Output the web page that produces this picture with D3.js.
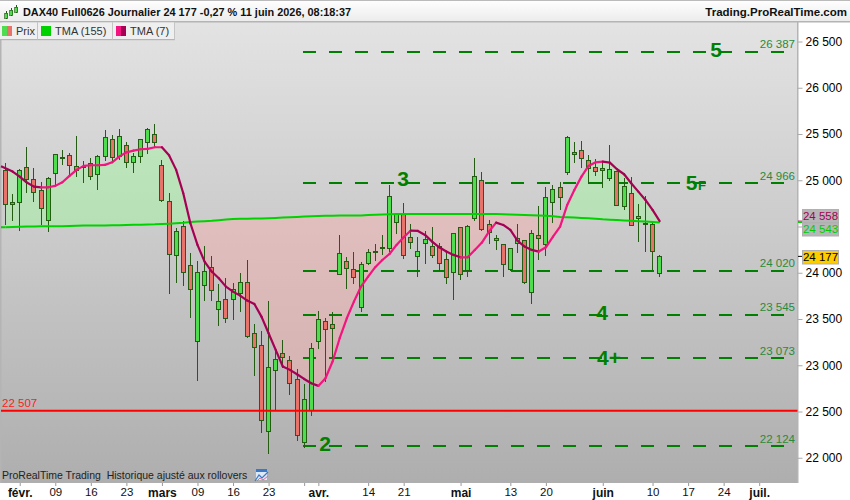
<!DOCTYPE html>
<html><head><meta charset="utf-8">
<script src="https://cdn.jsdelivr.net/npm/d3@7"></script>
<style>html,body{margin:0;padding:0;background:#fff;overflow:hidden}svg{display:block;font-family:"Liberation Sans",Arial,sans-serif}</style>
</head><body><svg id="c" width="850" height="500"></svg>
<script>
const title="DAX40 Full0626 Journalier 24 177 -0,27 % 11 juin 2026, 08:18:37";
const brand="Trading.ProRealTime.com";
const footer="ProRealTime Trading  Historique ajusté aux rollovers";
const legendNames=["Prix","TMA (155)","TMA (7)"];
const opens=[25112,24769,24762,25140,25018,24892,24567,25075,25245,25270,
25151,25158,25184,25072,25259,25443,25259,25378,25202,25259,
25411,25497,25162,24773,24189,24503,24081,23260,23865,24059,
23605,23714,23714,23778,23897,23346,23216,22287,22946,23130,
23054,22849,22168,22514,23260,23476,23443,23984,24128,24038,
23634,24103,24229,24268,24272,24553,24632,24384,24185,24326,
24286,24286,24146,24005,24492,24027,24596,25000,24524,24373,
24308,24038,24319,24351,23789,24405,24308,24762,24924,25086,
25302,25324,25216,25140,25129,25021,25097,24719,24859,24589,
24535,24524,23994];
const closes=[24740,24740,25108,25018,24870,24697,25021,25281,25248,25162,
25115,25148,25050,25259,25465,25248,25475,25194,25259,25443,
25551,25411,24791,24200,24449,24005,23829,24005,24016,23811,
23692,23508,23822,23897,23314,23195,22406,22979,23065,23094,
22806,22244,22633,23184,23497,23389,23400,24211,24052,23951,
24092,24222,24232,24275,24827,24632,24189,24337,24232,24362,
24196,24110,23951,24427,23984,24502,25043,24470,24445,24351,
24092,24265,24380,23897,24427,24373,24816,24902,24816,25464,
25281,25237,25129,25097,25108,25119,24729,24935,24513,24610,
24524,24232,24177];
const highs=[25194,24859,25137,25371,25144,24993,25047,25292,25339,25303,
25490,25216,25252,25281,25555,25501,25562,25421,25303,25447,
25573,25616,25227,24874,24492,24571,24222,24139,24297,24189,
23887,23951,23897,24005,24146,23454,23382,23703,23202,23281,
23108,22968,22806,23249,23598,23519,23584,24420,24182,24232,
24124,24265,24319,24416,24956,24657,24762,24535,24394,24463,
24502,24337,24232,24438,24502,24524,25248,25097,24578,24420,
24319,24275,24535,24362,24474,24729,24935,24956,24989,25486,
25421,25432,25281,25237,25205,25389,25097,25032,25043,24751,
24837,24556,24200];
const lows=[24528,24571,24463,24877,24780,24528,24456,24960,25176,25068,
25047,24982,25014,24906,25220,25194,25227,25148,25094,25198,
25292,25364,24776,23786,23905,23872,23526,22845,23710,23710,
23440,23465,23497,23591,23303,22899,22283,22049,22532,22979,
22694,22193,22121,22463,23184,22834,23051,23984,23836,23887,
23587,24092,24138,24203,24236,24434,24164,24272,23969,24110,
24167,24030,23893,23721,23930,23969,24574,24463,24326,24254,
23969,24030,24229,23886,23670,24146,24189,24553,24693,25065,
25194,25140,24967,25054,24924,25000,24729,24686,24513,24348,
24239,24045,23969];
const tma7=[25130,25094,25039,24975,24931,24924,24924,24939,24978,25047,
25112,25155,25162,25162,25166,25194,25256,25302,25320,25335,
25339,25357,25357,25270,25112,24859,24535,24301,24121,24013,
23941,23850,23796,23753,23699,23663,23526,23346,23166,22986,
22950,22903,22852,22806,22777,22860,23040,23292,23508,23688,
23851,23959,24060,24138,24203,24301,24383,24456,24452,24409,
24337,24275,24229,24193,24167,24167,24247,24326,24445,24542,
24517,24463,24347,24283,24247,24229,24275,24391,24499,24733,
24895,25039,25155,25194,25201,25191,25119,25065,24967,24877,
24787,24679,24558];
const tma155=[24492,24494,24497,24499,24500,24502,24503,24503,24503,24505,
24508,24510,24511,24512,24512,24513,24514,24516,24518,24520,
24522,24524,24528,24531,24535,24540,24548,24553,24558,24562,
24568,24575,24580,24583,24585,24586,24587,24589,24592,24596,
24600,24604,24608,24611,24613,24615,24617,24618,24618,24619,
24620,24624,24628,24630,24632,24634,24635,24636,24636,24636,
24636,24636,24636,24636,24636,24636,24636,24636,24635,24634,
24632,24630,24628,24625,24622,24620,24616,24610,24604,24600,
24596,24592,24588,24584,24578,24574,24570,24566,24562,24558,
24553,24548,24543];
const yTicks=[22000,22500,23000,23500,24000,24500,25000,25500,26000,26500];
const yHiddenLabels=[24500];
const dayIdx=[2,7,12,17,22,27,32,37,44,51,56,64,71,76,84,91,96,101,106];
const dayLabels=["févr.","09","16","23","mars","09","16","23","avr.","14","21","mai","13","20","juin","10","17","24","juil."];
const minorIdx=[42];
const levels=[26387,24966,24020,23545,23073,22124];
const levelStart=42, levelEnd=109.6;
const waves=[["5",716,57,21],["5",691.5,190,21],["F",702,190,13],["3",403,186,21],["4",602,320,21],["4+",609,365,21],["2",325,451,21]];
const support=22507;
const lastPrice=24177, lastTma7=24558, lastTma155=24543;

const W=850,H=500,L=1,R=797.5,T=22,B=483;
const x=d3.scaleLinear().domain([0,106]).range([5.5,759.2]);
const y=d3.scaleLinear().domain([22000,26500]).range([457.75,41.5]);
const px=v=>Math.floor(x(v))+.5, py=v=>Math.round(y(v))+.5;
const loc=d3.formatLocale({decimal:",",thousands:" ",grouping:[3],currency:["","€"]});
const fmt=loc.format(",d");
const svg=d3.select("#c");
const defs=svg.append("defs");
function grad(id,stops){const g=defs.append("linearGradient").attr("id",id).attr("x1",0).attr("x2",0).attr("y1",0).attr("y2",1);
 stops.forEach(s=>g.append("stop").attr("offset",s[0]).attr("stop-color",s[1]));}
grad("bg",[[0,"#e3e3e3"],[1,"#aeaeae"]]);
grad("hd",[[0,"#ffffff"],[1,"#ececec"]]);
defs.append("clipPath").attr("id","plot").append("rect").attr("x",L).attr("y",T).attr("width",R-L).attr("height",B-T);
const idx=d3.range(closes.length);
const above=d3.area().x(i=>x(i)).y0(T).y1(i=>y(tma155[i]));
const below=d3.area().x(i=>x(i)).y0(B).y1(i=>y(tma155[i]));
defs.append("clipPath").attr("id","above").append("path").attr("d",above(idx));
defs.append("clipPath").attr("id","below").append("path").attr("d",below(idx));

svg.append("rect").attr("width",W).attr("height",H).attr("fill","#fff");
svg.append("rect").attr("x",L).attr("y",T).attr("width",R-L).attr("height",B-T).attr("fill","url(#bg)");
svg.append("rect").attr("x",0).attr("y",0).attr("width",1.5).attr("height",B).attr("fill","#b4b4b4");
svg.append("rect").attr("x",R-.5).attr("y",T).attr("width",1.5).attr("height",B-T).attr("fill","#b4b4b4");

// area between averages
const between=d3.area().x(i=>x(i)).y0(i=>y(tma155[i])).y1(i=>y(tma7[i]));
svg.append("path").attr("d",between(idx)).attr("fill","rgba(153,255,153,.4)").attr("clip-path","url(#above)");
svg.append("path").attr("d",between(idx)).attr("fill","rgba(255,170,170,.4)").attr("clip-path","url(#below)");

// levels
svg.append("g").selectAll("line").data(levels).join("line")
 .attr("x1",x(levelStart)-.9).attr("x2",x(levelEnd)).attr("y1",d=>y(d)).attr("y2",d=>y(d))
 .attr("stroke","#008000").attr("stroke-width",2).attr("stroke-dasharray","13 13").attr("shape-rendering","crispEdges");

// candles
const cg=svg.append("g").attr("clip-path","url(#plot)").attr("shape-rendering","crispEdges");
cg.selectAll("line").data(idx).join("line").attr("x1",i=>px(i)).attr("x2",i=>px(i))
 .attr("y1",i=>py(highs[i])).attr("y2",i=>py(lows[i])).attr("stroke","#245c14");
cg.selectAll("rect").data(idx).join("rect")
 .attr("x",i=>px(i)-2).attr("width",4)
 .attr("y",i=>py(Math.max(opens[i],closes[i])))
 .attr("height",i=>Math.max(1,py(Math.min(opens[i],closes[i]))-py(Math.max(opens[i],closes[i]))))
 .attr("fill",i=>closes[i]>=opens[i]?"#4fdc4f":"#e8736b").attr("stroke","#245c14");

// averages
const line=d3.line().x(i=>x(i)).y(i=>y(tma155[i]));
svg.append("path").attr("d",line(idx)).attr("fill","none").attr("stroke","#00d200").attr("stroke-width",2);
svg.append("path").attr("d",`M${L},${y(tma155[0])}L${x(0)},${y(tma155[0])}`).attr("stroke","#00d200").attr("stroke-width",2);
svg.append("path").attr("d",`M${L},${y(tma7[0]+22)}L${x(0)},${y(tma7[0])}`).attr("stroke","#a60055").attr("stroke-width",2.2);
svg.append("g").selectAll("path").data(idx.slice(1)).join("path")
 .attr("d",i=>d3.line().x(j=>x(j)).y(j=>y(tma7[j]))([i-1,i]))
 .attr("fill","none").attr("stroke-linecap","round").attr("stroke-width",2.2)
 .attr("stroke",i=>tma7[i]>=tma7[i-1]?"#f4147f":"#a60055");

// support
svg.append("line").attr("x1",L).attr("x2",R).attr("y1",y(support)).attr("y2",y(support)).attr("stroke","#ff0000").attr("stroke-width",2);
svg.append("text").attr("x",2).attr("y",y(support)-4).attr("fill","#ff2020").attr("font-size",11.5).text(fmt(support));

// level labels
svg.append("g").selectAll("text").data(levels).join("text").attr("x",795).attr("y",d=>y(d)-3.5)
 .attr("text-anchor","end").attr("font-size",11.5).attr("fill","#2a8a3a").text(fmt);
svg.append("g").selectAll("text").data(waves).join("text").attr("x",d=>d[1]).attr("y",d=>d[2])
 .attr("text-anchor","middle").attr("font-size",d=>d[3]).attr("font-weight","bold").attr("fill","#008000").text(d=>d[0]);

// y axis
const ya=svg.append("g").attr("transform",`translate(${R},0)`).call(d3.axisRight(y).tickValues(yTicks).tickFormat(v=>yHiddenLabels.includes(v)?"":fmt(v)).tickSize(5).tickPadding(3));
ya.select(".domain").remove();
ya.selectAll("line").attr("stroke","#aaa");
ya.selectAll("text").attr("font-family","'Liberation Sans'").attr("font-size",12).attr("fill","#000");

// last value boxes
[[lastTma7,"#a60055"],[lastTma155,"#00d200"],[lastPrice,"#000"]].forEach(d=>{
 svg.append("line").attr("x1",R+.5).attr("x2",R+5).attr("y1",y(d[0])).attr("y2",y(d[0])).attr("stroke",d[1]);});
const boxes=[[lastTma7,209,222.5,"#b6b6b6","#a60055"],[lastTma155,222.5,236,"#b6b6b6","#00cc00"],[lastPrice,250,264,"#ffcc00","#000"]];
boxes.forEach(b=>{
 svg.append("rect").attr("x",802.5).attr("y",b[1]+.5).attr("width",36).attr("height",b[2]-b[1]-.5).attr("fill",b[3]).attr("stroke","#b0b0b0");
 svg.append("text").attr("x",820.5).attr("y",b[2]-3).attr("text-anchor","middle").attr("font-size",11.5).attr("fill",b[4]).text(fmt(b[0]));
});

// x axis
const xa=svg.append("g").attr("transform",`translate(0,${B})`).call(d3.axisBottom(x).tickValues(dayIdx.concat(minorIdx)).tickFormat(v=>{const k=dayIdx.indexOf(v);return k<0?"":dayLabels[k];}).tickSize(3).tickPadding(2));
xa.select(".domain").remove();
xa.selectAll("line").attr("stroke","#999");
xa.selectAll("text").attr("font-family","'Liberation Sans'").attr("fill","#111")
 .attr("font-size",v=>{const k=dayIdx.indexOf(v);return k>=0&&dayLabels[k].length>2?12:11.5;})
 .attr("font-weight",v=>{const k=dayIdx.indexOf(v);return k>=0&&dayLabels[k].length>2?"bold":"normal";});

// header
svg.append("rect").attr("width",W).attr("height",21).attr("fill","url(#hd)");
svg.append("rect").attr("y",21).attr("width",W).attr("height",1.5).attr("fill","#b4b4b4");
svg.append("rect").attr("width",W).attr("height",1).attr("fill","#bbb");
svg.append("text").attr("x",23).attr("y",16).attr("font-size",10.9).attr("font-weight","bold").attr("fill","#111").text(title);
svg.append("text").attr("x",847).attr("y",16).attr("text-anchor","end").attr("font-size",11.5).attr("font-weight","bold").attr("fill","#111").text(brand);
// header icon (small candles)
const ic=svg.append("g").attr("shape-rendering","crispEdges");
[[6,11,19,13,18],[11,8,16,10,15],[16,5,13,7,12]].forEach(c=>{
 ic.append("line").attr("x1",c[0]).attr("x2",c[0]).attr("y1",c[1]).attr("y2",c[2]).attr("stroke","#245c14");
 ic.append("rect").attr("x",c[0]-1.5).attr("y",c[3]).attr("width",3).attr("height",c[4]-c[3]).attr("fill","#4fdc4f").attr("stroke","#245c14").attr("stroke-width",.7);
});

// legend
const lg=[[0,37,2,["#4fdc4f","#e8736b"],16],[38,112,41,["#00d200","#00d200"],55],[113,174,116,["#f4147f","#a60055"],130]];
lg.forEach((l,k)=>{
 svg.append("rect").attr("x",l[0]).attr("y",22.5).attr("width",l[1]-l[0]).attr("height",17).attr("fill","#efefef");
 svg.append("rect").attr("x",l[0]).attr("y",39).attr("width",l[1]-l[0]+1).attr("height",1.2).attr("fill","#b4b4b4");
 svg.append("rect").attr("x",l[1]).attr("y",22.5).attr("width",1).attr("height",17).attr("fill","#c4c4c4");
 svg.append("rect").attr("x",l[2]).attr("y",26).attr("width",5).attr("height",10).attr("fill",l[3][0]);
 svg.append("rect").attr("x",l[2]+5).attr("y",26).attr("width",5).attr("height",10).attr("fill",l[3][1]);
 svg.append("text").attr("x",l[4]).attr("y",35).attr("font-size",11).attr("fill","#333").text(legendNames[k]);
});

// footer
svg.append("text").attr("x",2).attr("y",479).attr("font-size",10.5).attr("fill","#222").style("white-space","pre").text(footer);
const fi=svg.append("g").attr("transform","translate(255,468)");
fi.append("rect").attr("x",1).attr("y",1).attr("width",11).attr("height",3).attr("fill","#3a78c8");
fi.append("rect").attr("x",1).attr("y",4).attr("width",11).attr("height",8).attr("fill","#dfe8f5");
fi.append("path").attr("d","M0,13L4,7L7,10L13,4").attr("fill","none").attr("stroke","#3a78c8").attr("stroke-width",1.2);
fi.append("path").attr("d","M2,13L5,10L8,12L13,8").attr("fill","none").attr("stroke","#e06a9a").attr("stroke-width",1);
</script></body></html>
